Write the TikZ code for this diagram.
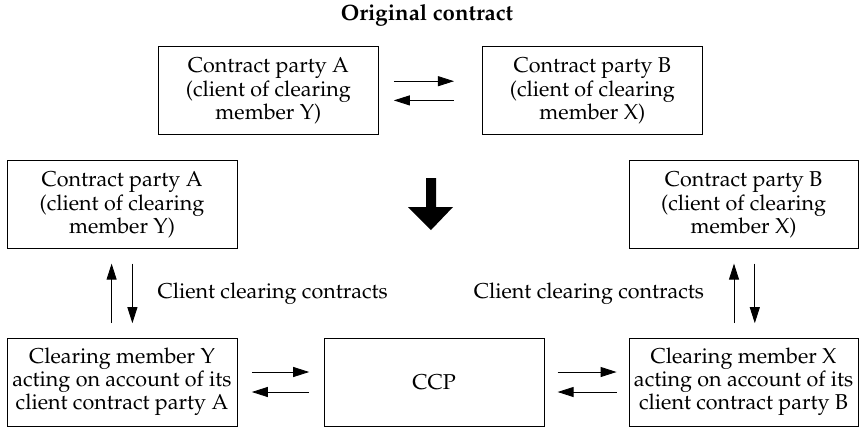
\documentclass[tikz,border=0pt]{standalone}
\usepackage[T1]{fontenc}
\usepackage{mathpazo}
\usetikzlibrary{arrows.meta}

\begin{document}
\begin{tikzpicture}
                    \tikzset{party/.style={draw, line width=0.6pt, align=center, minimum width=5.5cm, minimum height=2.2cm, font=\fontsize{15.3}{16.5}\selectfont}}
                    \tikzset{flow/.style={line width=0.6pt, shorten <=0.36cm, shorten >=0.36cm}}
                    \tikzset{>={Triangle[length=0.4cm, width=0.25cm]}}
                    \useasboundingbox (0, 0) rectangle (21.475, -10.7);

                    \node[font=\fontsize{15.8}{18}\selectfont\bfseries] (title) at (10.675, -0.375) {Original contract};
                    \node[party] (topA) at (6.71, -2.27) {Contract party A\\(client of clearing\\member Y)};
                    \node[party] (topB) at (14.81, -2.27) {Contract party B\\(client of clearing\\member X)};
                    \node[party, minimum width=5.75cm] (A) at (3.05, -5.12) {Contract party A\\(client of clearing\\member Y)};
                    \node[party, minimum width=5.73cm] (B) at (18.59, -5.12) {Contract party B\\(client of clearing\\member X)};
                    \node[party, minimum width=5.75cm] (Y) at (3.05, -9.55) {Clearing member Y\\acting on account of its\\client contract party A};
                    \node[party] (CCP) at (10.85, -9.55) {CCP};
                    \node[party, minimum width=5.73cm] (X) at (18.59, -9.55) {Clearing member X\\acting on account of its\\client contract party B};

                    % change of the contract
                    \fill (10.65, -4.45) -- (10.9, -4.45) -- (10.9, -5.175) -- (11.325, -5.175)
                        -- (10.775, -5.75) -- (10.2, -5.175) -- (10.65, -5.175) -- cycle;

                    \path[->, flow]
                        ([yshift=0.24cm]topA.east) edge [shorten <=0.375cm, shorten >=0.7cm] ([yshift=0.24cm]topB.west)
                        ([yshift=-0.24cm]topB.west) edge [shorten <=0.7cm, shorten >=0.375cm] ([yshift=-0.24cm]topA.east)
                        ([xshift=-0.26cm]Y.north) edge ([xshift=-0.26cm]A.south)
                        ([xshift=0.26cm]A.south) edge node [right, xshift=0.5cm] {\fontsize{15.3}{18}\selectfont Client clearing contracts} ([xshift=0.26cm]Y.north)
                        ([xshift=-0.24cm]X.north) edge node [left, xshift=-0.62cm] {\fontsize{15.3}{18}\selectfont Client clearing contracts} ([xshift=-0.24cm]B.south)
                        ([xshift=0.28cm]B.south) edge ([xshift=0.28cm]X.north)
                        ([yshift=0.25cm]Y.east) edge ([yshift=0.25cm]CCP.west)
                        ([yshift=-0.25cm]CCP.west) edge ([yshift=-0.25cm]Y.east)
                        ([yshift=0.25cm]CCP.east) edge [shorten <=0.33cm, shorten >=0.3cm] ([yshift=0.25cm]X.west)
                        ([yshift=-0.25cm]X.west) edge [shorten <=0.3cm, shorten >=0.33cm] ([yshift=-0.25cm]CCP.east);
                \end{tikzpicture}
\end{document}
